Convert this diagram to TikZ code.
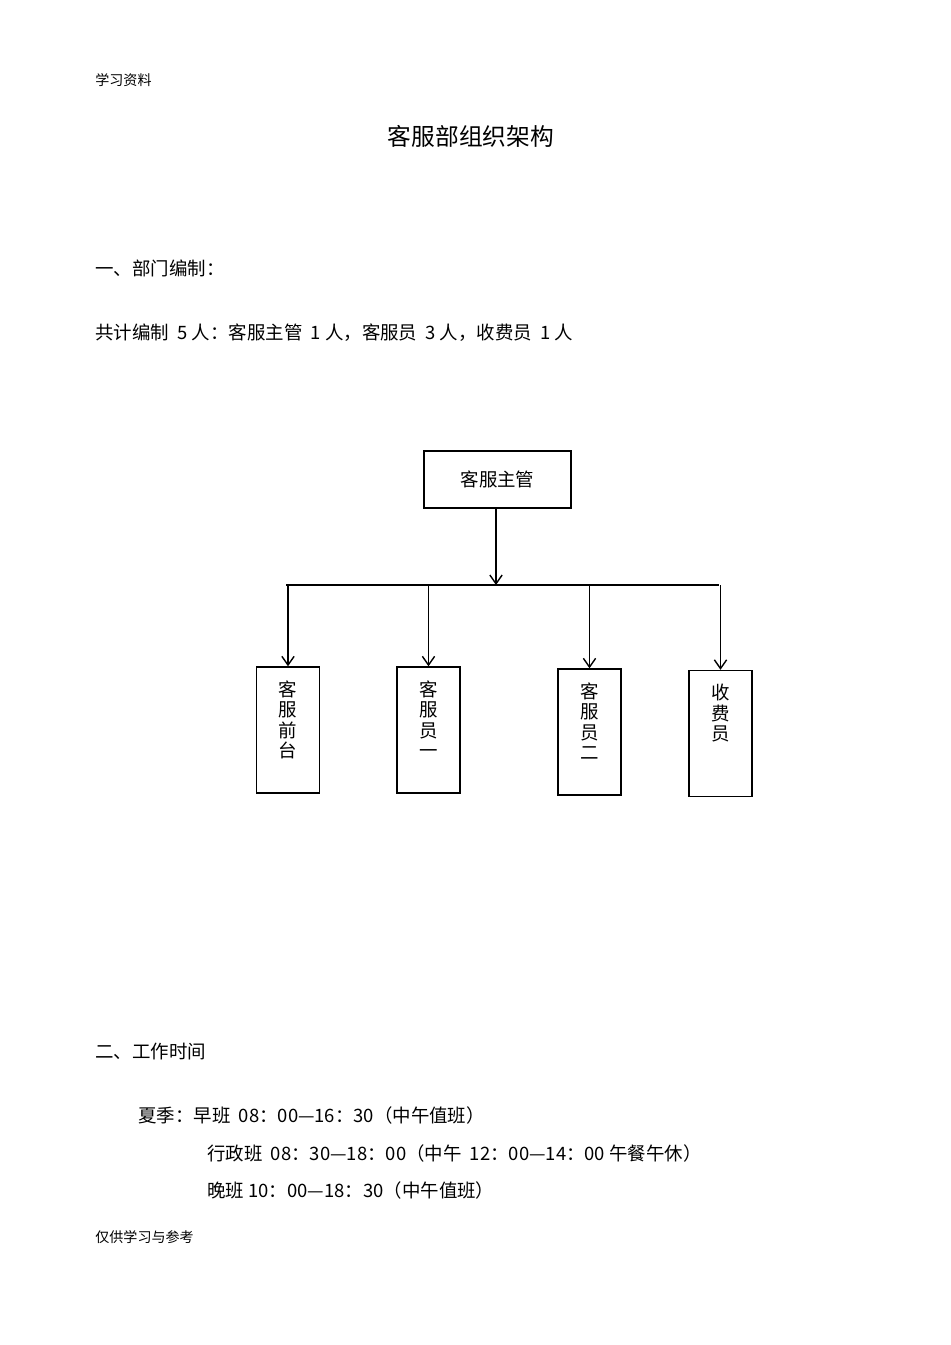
\documentclass[tikz,border=0pt]{standalone}
\usepackage{fontspec}
\setmainfont{Liberation Sans}
\newfontfamily\cjk{Noto Sans CJK SC}
\usetikzlibrary{arrows.meta}
\begin{document}
\begin{tikzpicture}[x=0.02cm,y=-0.02cm,
  txt/.style={anchor=west,inner sep=0,font=\cjk\fontsize{10.5pt}{12pt}\selectfont},
  small/.style={anchor=west,inner sep=0,font=\cjk\fontsize{8pt}{10pt}\selectfont},
  box/.style={draw,line width=0.8pt,inner sep=0},
  arr/.style={-{Straight Barb[length=5pt,width=7pt]},line width=0.8pt}]
\useasboundingbox (0,0) rectangle (950,1345);
\node[small] (h) at (95,80) {学习资料};
\node[inner sep=0,font=\cjk\fontsize{13.5pt}{15pt}\selectfont] (t) at (471,136) {客服部组织架构};
\node[txt] (s1) at (95,268) {一、部门编制：};
\node[txt] (l1) at (95,333) {共计编制\ \ 5 人：客服主管\ \ 1 人，客服员\ \ 3 人，收费员\ \ 1 人};
\node[box,minimum width=147*0.02cm,minimum height=57*0.02cm,font=\cjk\fontsize{10.5pt}{12pt}\selectfont] (top) at (497.5,479.5) {客服主管};
\coordinate (j) at (496,585);
\coordinate (jl) at (286,585);
\coordinate (jr) at (719,585);
\draw[arr] (top.south -| j) -- (j);
\draw[line width=0.8pt] (jl) -- (jr);
\foreach \n/\x/\y/\t in {a/288/730/{客\\服\\前\\台},b/428.5/730/{客\\服\\员\\一},c/589.5/732/{客\\服\\员\\二},d/720.5/733.5/{收\\费\\员}}{
  \node[box,minimum width=63*0.02cm,minimum height=126*0.02cm] (\n) at (\x,\y) {};
  \node[anchor=north,align=center,inner sep=0,font=\cjk\fontsize{10.5pt}{11.6pt}\selectfont] (\n t) at ([yshift=-8pt]\n.north) {\t};
}
\draw[arr] (jl -| a.north) ++(0,0) -- (a.north);
\draw[arr] (jl -| b.north) -- (b.north);
\draw[arr] (jl -| c.north) -- (c.north);
\draw[arr] (jl -| d.north) -- (d.north);
\node[txt] (s2) at (95,1052) {二、工作时间};
\node[txt] (w1) at (138,1115) {夏季：早班\ \ 08：00—16：30（中午值班）};
\node[txt] (w2) at (207,1153) {行政班\ \ 08：30—18：00（中午\ \ 12：00—14：00 午餐午休）};
\node[txt] (w3) at (207,1190) {晚班 10：00—18：30（中午值班）};
\node[small] (f) at (95,1237) {仅供学习与参考};
\end{tikzpicture}
\end{document}
